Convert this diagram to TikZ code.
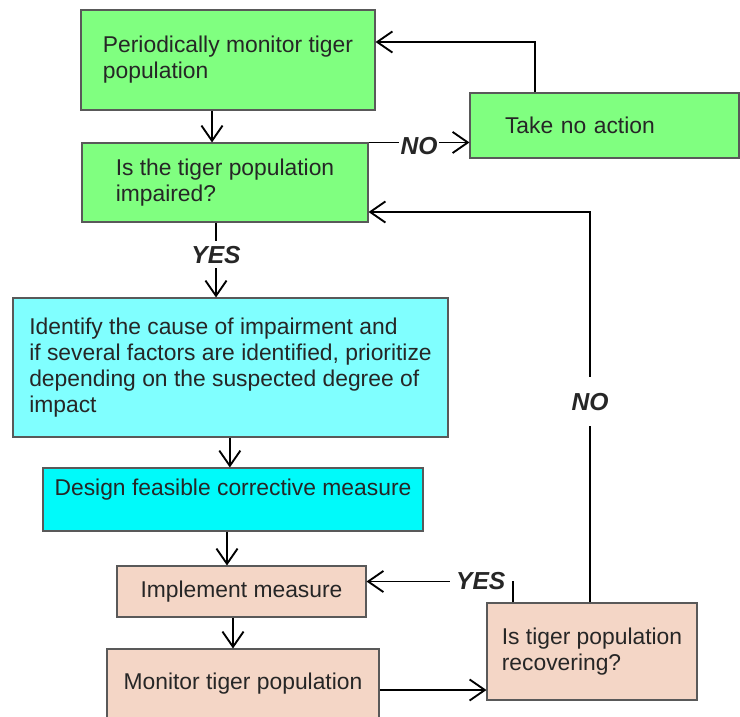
\documentclass[tikz,border=0pt]{standalone}
\usepackage{fontspec}
\setmainfont{Liberation Sans}
\usepackage{tikz}
\usetikzlibrary{arrows.meta,positioning}
\definecolor{boxgreen}{RGB}{128,255,128}
\definecolor{cyanlight}{RGB}{128,255,255}
\definecolor{cyanstrong}{RGB}{0,250,250}
\definecolor{peach}{RGB}{244,214,198}

\begin{document}
\begin{tikzpicture}[
    box/.style={rectangle, draw=black!65, line width=0.9pt, align=left, text=black!85,
      font=\fontsize{19.5}{22.2}\selectfont},
    flow/.style={line width=1.6pt, -{Straight Barb[length=13pt,width=18pt]}},
    answer/.style={font=\fontsize{21}{25}\selectfont\bfseries\itshape, fill=white, text=black!85}
  ]

    \useasboundingbox (0,0) rectangle (22.2,-21.51);

    % Nodes
    \node[box, fill=boxgreen, minimum width=8.82cm, minimum height=3cm] (periodic) at (6.84,-1.8) {Periodically monitor tiger\\population};
    \node[box, fill=boxgreen, minimum width=8.58cm, minimum height=2.37cm] (impaired) at (6.75,-5.475) {Is the tiger population\\impaired?};
    \node[box, fill=boxgreen, text width=5.97cm, inner xsep=1.05cm, minimum height=1.95cm] (noaction) at (18.135,-3.765) {Take no action};
    \node[box, fill=cyanlight, minimum width=13.05cm, minimum height=4.17cm] (cause) at (6.915,-11.025) {Identify the cause of impairment and\\if several factors are identified, prioritize\\depending on the suspected degree of\\impact};
    \node[box, fill=cyanstrong, minimum width=11.4cm, minimum height=1.89cm, text depth=0.71cm] (design) at (6.99,-14.985) {Design feasible corrective measure};
    \node[box, fill=peach, minimum width=7.47cm, minimum height=1.53cm] (implement) at (7.245,-17.745) {Implement measure};
    \node[box, fill=peach, minimum width=8.16cm, minimum height=2.1cm] (monitor) at (7.29,-20.52) {Monitor tiger population};
    \node[box, fill=peach, minimum width=6.3cm, minimum height=2.91cm] (recovering) at (17.76,-19.545) {Is tiger population\\recovering?};

    % Connectors
    \draw[flow] ([xshift=-0.48cm]periodic.south) -- ([xshift=-0.48cm]periodic.south |- impaired.north);
    \draw[flow] (impaired.north east) -- node[answer, yshift=-0.1cm, inner xsep=0.06cm, inner ysep=0.05cm] {NO} (impaired.north east -| noaction.west);
    \draw[flow] ([xshift=-2.085cm]noaction.north) |- ([yshift=0.54cm]periodic.east);
    \draw[flow] ([xshift=-0.27cm]impaired.south) -- node[answer, pos=0.43, inner ysep=0.15cm] {YES} ([xshift=-0.27cm]impaired.south |- cause.north);
    \draw[flow] ([xshift=-0.02cm]cause.south) -- ([xshift=-0.02cm]cause.south |- design.north);
    \draw[flow] ([xshift=-0.18cm]design.south) -- ([xshift=-0.18cm]design.south |- implement.north);
    \draw[flow] ([xshift=-0.255cm]implement.south) -- ([xshift=-0.255cm]implement.south |- monitor.north);
    \draw[flow] ([yshift=-0.18cm]monitor.east) -- ([yshift=-0.18cm]monitor.east -| recovering.west);
    \draw[flow] ([xshift=-2.37cm]recovering.north) |- node[answer, pos=0.5, anchor=east, inner xsep=0.2cm, inner ysep=0.02cm] {YES} ([yshift=0.3cm]implement.east);
    \draw[flow] ([xshift=-0.06cm]recovering.north) |- node[answer, pos=0.257, inner ysep=0.47cm] {NO} ([yshift=-0.885cm]impaired.east);

\end{tikzpicture}
\end{document}
